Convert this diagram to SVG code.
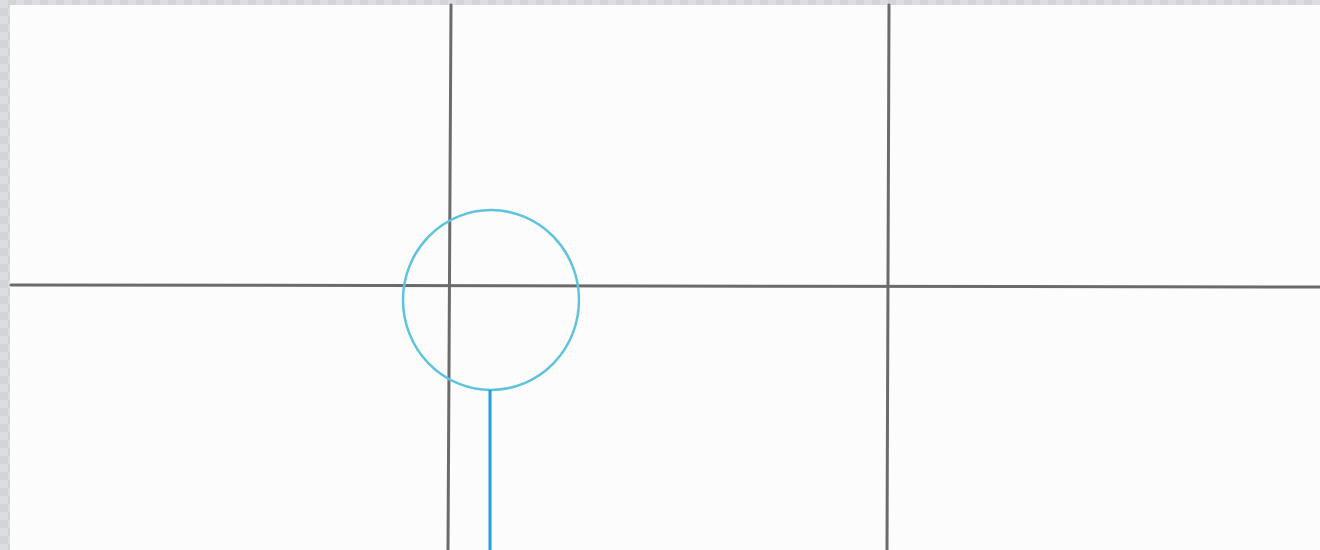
<svg xmlns="http://www.w3.org/2000/svg" width="1320" height="550" viewBox="0 0 1320 550">
<defs>
<pattern id="chk" width="16" height="16" patternUnits="userSpaceOnUse">
<rect width="16" height="16" fill="#d3d4d8"/>
<rect width="8" height="8" fill="#dcdde0"/>
<rect x="8" y="8" width="8" height="8" fill="#dcdde0"/>
</pattern>
</defs>
<style>
.grid{stroke:#6b6b6b;stroke-width:3;fill:none;stroke-linecap:round}
.lens{stroke:#5ec3dc;stroke-width:2.5;fill:none}
.lead{stroke:#1ea3d6;stroke-width:3;fill:none}
</style>
<rect width="1320" height="550" fill="url(#chk)"/>
<rect x="10" y="5" width="1310" height="545" fill="#fcfcfc"/>
<g id="grid">
<path class="grid" d="M451,5 L448,550"/>
<path class="grid" d="M889,5 L887,550"/>
<path class="grid" d="M11,285 L1320,287"/>
</g>
<g id="lens">
<ellipse class="lens" cx="491" cy="300" rx="88" ry="90"/>
</g>
<g id="connectors">
<path class="lead" d="M490,390 L490,550"/>
</g>
</svg>
